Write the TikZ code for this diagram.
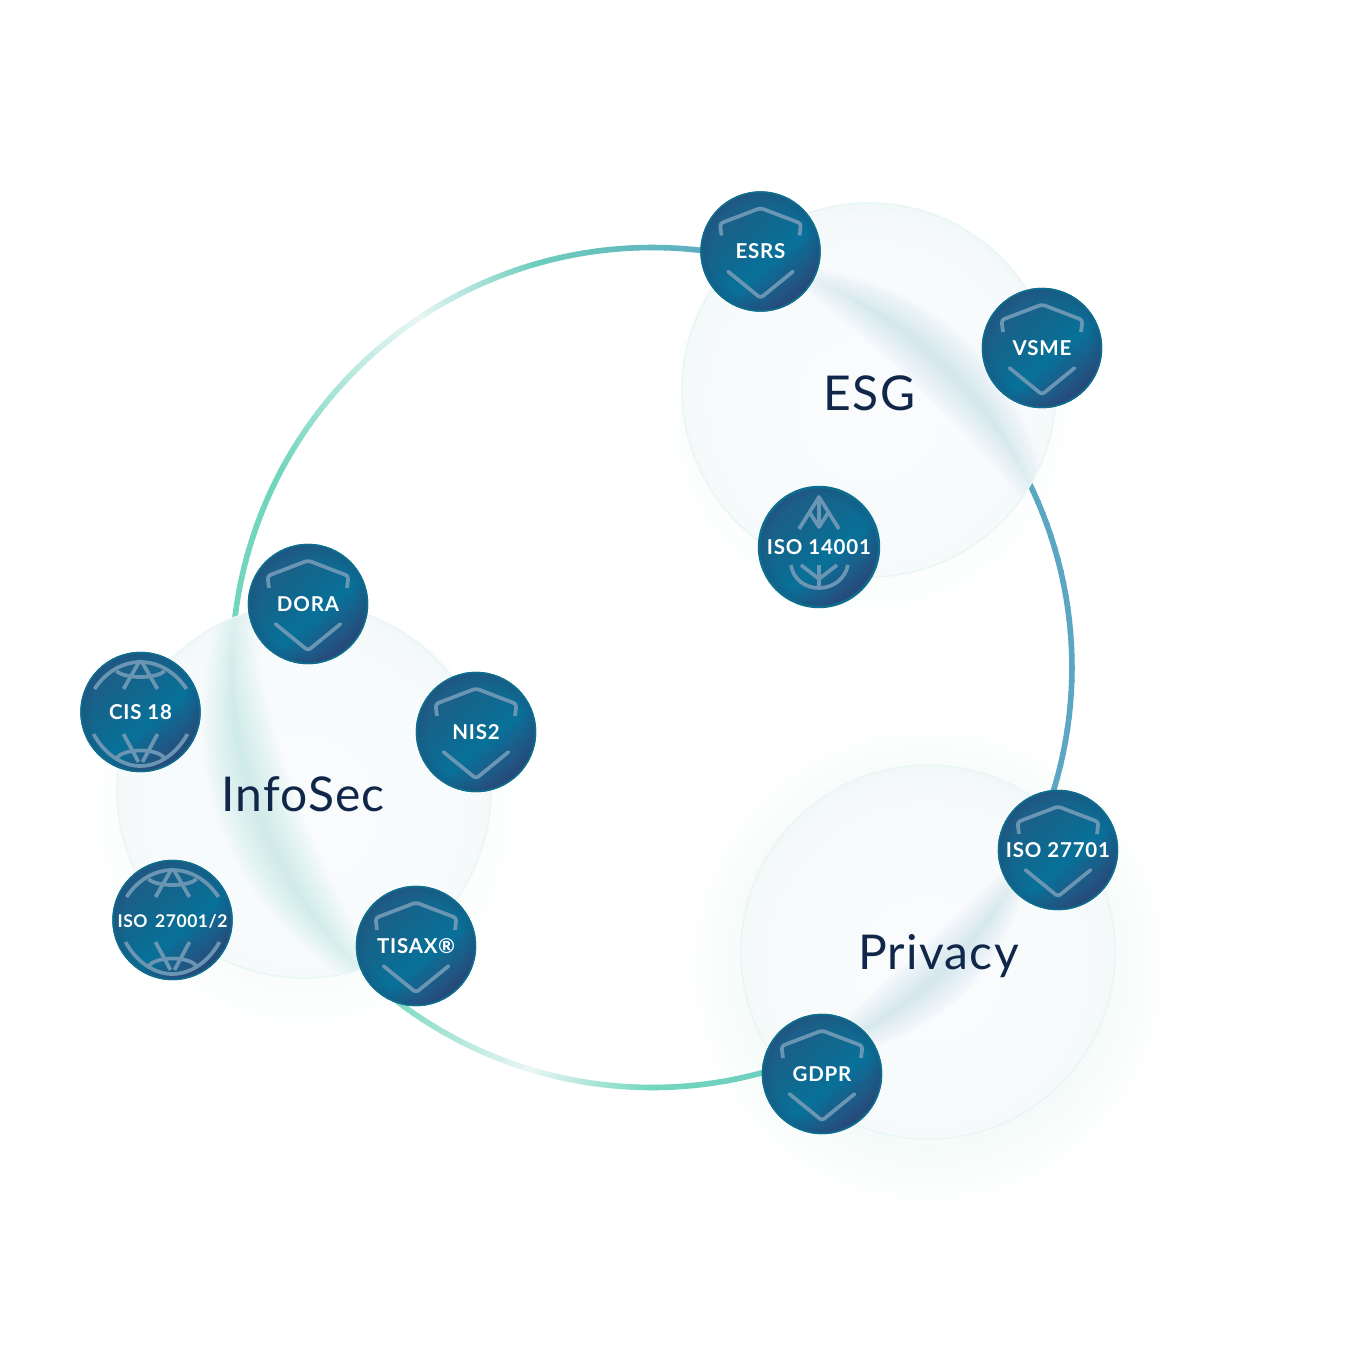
\documentclass[tikz,border=0pt]{standalone}
\usepackage{fontspec}
\setmainfont{Lato}
\definecolor{ink}{HTML}{10274A}
\definecolor{iconc}{HTML}{6A95B3}
\definecolor{teal}{HTML}{72D6BF}
\definecolor{tealb}{HTML}{6CCDBC}
\definecolor{pale}{HTML}{E9F6F4}
\definecolor{blue}{HTML}{5BA7C3}
\definecolor{rim}{HTML}{0E6E8D}
\definecolor{glassedge}{HTML}{EAF6F4}
\definecolor{bandblue}{HTML}{A8D2E0}
\definecolor{bandgreen}{HTML}{9CEBD2}
\definecolor{bda}{HTML}{234C7B}
\definecolor{bdb}{HTML}{274F7E}
\definecolor{bdc}{HTML}{087199}
\definecolor{bdd}{HTML}{10688F}
\definecolor{bde}{HTML}{205C85}
\definecolor{gla}{HTML}{F9FBFD}
\definecolor{glb}{HTML}{F8FBFC}
\definecolor{glc}{HTML}{F4F9FA}
\definecolor{gld}{HTML}{EEF6F6}
\definecolor{gwa}{HTML}{F2FAF8}
\definecolor{gwb}{HTML}{F7FCFB}
\definecolor{gwc}{HTML}{F9FDFC}
\pgfdeclareverticalshading{badgeshade}{100bp}{color(0bp)=(bda);color(28bp)=(bdb);color(44bp)=(bdc);color(56bp)=(bdd);color(75bp)=(bde);color(100bp)=(bde)}
\pgfdeclareradialshading{glassshade}{\pgfpoint{0bp}{-3bp}}{color(0bp)=(gla);color(20bp)=(glb);color(25bp)=(glc);color(28bp)=(gld);color(50bp)=(gld)}
\pgfdeclareradialshading{glowshade}{\pgfpoint{0bp}{0bp}}{color(0bp)=(gwa);color(16bp)=(gwa);color(20bp)=(gwb);color(25bp)=(white);color(50bp)=(white)}
\pgfdeclareradialshading{softshade}{\pgfpoint{0bp}{0bp}}{color(0bp)=(gwc);color(18bp)=(gwc);color(25bp)=(white);color(50bp)=(white)}
\tikzset{
  x=1pt,y=-1pt,
  glass/.style={circle,minimum size=374pt,inner sep=0pt,shading=glassshade,draw=glassedge,line width=1.5pt},
  badge/.style={circle,minimum size=119pt,inner sep=0pt,shading=badgeshade,shading angle=40,draw=rim,line width=1.4pt,text=white},
  badgetext/.style={font=\bfseries\fontsize{20.5}{21}\selectfont\addfontfeature{LetterSpace=4}},
  titletext/.style={text=ink,font=\fontsize{48}{48}\selectfont\addfontfeature{LetterSpace=2.6},inner sep=0pt},
  ringline/.style={line width=5.6pt,line cap=butt},
  iconline/.style={draw=iconc,line width=3.7pt,line join=round,line cap=round},
}
\newcommand{\ringpiece}[4]{%
  \pgfmathsetmacro{\stepa}{(#2-(#1))/30}%
  \foreach \i in {0,...,29}{%
    \pgfmathsetmacro{\aa}{#1+\i*\stepa}%
    \pgfmathsetmacro{\ab}{#1+(\i+1.15)*\stepa}%
    \pgfmathtruncatemacro{\p}{(\i+.5)/30*100}%
    \draw[ringline,#4!\p!#3] ([shift={(\aa:420)}]ringc) -- ([shift={(\ab:420)}]ringc);
  }}
% lens: a1, a2, half-thickness, colour, opacity
\newcommand{\lens}[5]{%
  \pgfmathsetmacro{\spana}{#2-(#1)}%
  \pgfmathsetmacro{\ca}{#1+\spana/3}%
  \pgfmathsetmacro{\cb}{#1+2*\spana/3}%
  \pgfmathsetmacro{\rc}{420*(1-0.25*cos(\spana/2))/(0.75*cos(\spana/6))}%
  \pgfmathsetmacro{\ro}{\rc+#3}%
  \pgfmathsetmacro{\ri}{\rc-#3}%
  \fill[#4,opacity=#5] ([shift={(#1:420)}]ringc)
    .. controls ([shift={(\ca:\ro)}]ringc) and ([shift={(\cb:\ro)}]ringc) .. ([shift={(#2:420)}]ringc)
    .. controls ([shift={(\cb:\ri)}]ringc) and ([shift={(\ca:\ri)}]ringc) .. cycle;
}
\newcommand{\band}[5]{% a1,a2,maxd,colour,opacity
  \foreach \k in {0,...,15}{%
    \pgfmathsetmacro{\aone}{#1+\k*0.016*(#2-(#1))}%
    \pgfmathsetmacro{\atwo}{#2-\k*0.016*(#2-(#1))}%
    \pgfmathsetmacro{\dd}{#3*(1-\k/16.5)}%
    \lens{\aone}{\atwo}{\dd}{#4}{#5}
  }}
\newcommand{\shieldicon}[1]{%
  \begin{scope}[shift={(#1.center)}]
    \draw[iconline,line cap=butt,rounded corners=3pt] (-39,-16) -- (-40.5,-28) -- (0,-43.5) -- (40.5,-28) -- (39,-16);
    \draw[iconline,rounded corners=3pt] (-32.5,20) -- (0,46.5) -- (32.5,20);
  \end{scope}}
\newcommand{\globeicon}[1]{%
  \begin{scope}[shift={(#1.center)}]
    \draw[iconline,line cap=butt] (-46,-23) .. controls (-34,-41) and (-17,-50) .. (0,-50) .. controls (17,-50) and (34,-41) .. (46,-23);
    \draw[iconline,line cap=butt] (-24,-41) .. controls (-16,-33) and (16,-33) .. (24,-41);
    \draw[iconline,line cap=butt] (-17,-23) -- (-2,-49) (17,-23) -- (2,-49);
    \draw[iconline,line cap=butt] (-47,22) .. controls (-36,42) and (-18,54) .. (0,54) .. controls (18,54) and (36,42) .. (47,22);
    \draw[iconline,line cap=butt] (-24,46) .. controls (-16,36) and (16,36) .. (24,46);
    \draw[iconline,line cap=butt] (-17,22) -- (-2,50) (17,22) -- (2,50);
  \end{scope}}
\newcommand{\leaficon}[1]{%
  \begin{scope}[shift={(#1.center)}]
    \draw[iconline,line cap=butt] (-20,-18) -- (0,-50) -- (20,-18);
    \draw[iconline,line cap=butt] (0,-50) -- (0,-19);
    \draw[iconline,line cap=butt] (-9,-34) -- (0,-20) -- (9,-34);
    \draw[iconline,line cap=butt] (-28,18) .. controls (-26,32) and (-14,41) .. (0,41) .. controls (14,41) and (26,32) .. (29,18);
    \draw[iconline,line cap=butt] (-18,18) -- (0,32) -- (18,18) (0,18) -- (0,41);
  \end{scope}}
\newcommand{\rimshade}[1]{%
  \foreach \w/\o in {10/0.07,7/0.08,4/0.10}{%
    \draw[bda,opacity=\o,line width=\w pt] (#1.center) circle[radius=59.5pt-\w pt/2];
  }
  \draw[rim,line width=1.4pt] (#1.center) circle[radius=59.5pt];
}
\begin{document}
\begin{tikzpicture}
\useasboundingbox (0,0) rectangle (1360,1360);
\fill[white] (0,0) rectangle (1360,1360);
\coordinate (ringc) at (652,667.5);
% soft glows
\shade[shading=glowshade] (928,965) circle[radius=245pt];
\shade[shading=softshade] (304,815) circle[radius=225pt];
\shade[shading=softshade] (869,410) circle[radius=215pt];
% ring
\ringpiece{183}{208}{teal}{teal}
\ringpiece{208}{236}{teal}{pale}
\ringpiece{236}{254}{pale}{tealb}
\ringpiece{254}{282}{tealb}{blue}
\ringpiece{-30}{20}{blue}{blue}
\ringpiece{130}{107}{teal}{pale}
\ringpiece{107}{90}{pale}{teal}
\ringpiece{90}{72}{teal}{tealb}
% glass discs
\node[glass] (esgglass) at (869,390) {};
\node[glass] (infoglass) at (304,791) {};
\node[glass] (privglass) at (928,952) {};
% ring seen through the glass
\begin{scope}
  \clip (esgglass.center) circle[radius=186pt];
  \band{-74}{-18}{46}{bandblue}{0.028}
\end{scope}
\begin{scope}
  \clip (infoglass.center) circle[radius=186pt];
  \band{124}{196}{56}{bandgreen}{0.026}
\end{scope}
\begin{scope}
  \clip (privglass.center) circle[radius=186pt];
  \band{24}{70}{42}{bandblue}{0.028}
\end{scope}
% titles
\node[titletext] (esg) at (869.5,393) {ESG};
\node[titletext] (infosec) at (303,794.5) {InfoSec};
\node[titletext] (privacy) at (938.5,956) {Privacy};
% badges
\node[badge] (esrs) at (760.5,251.5) {};
\node[badge] (vsme) at (1042,348) {};
\node[badge,minimum size=121pt] (iso14) at (819,547) {};
\node[badge] (dora) at (308,604) {};
\node[badge] (nis) at (476,732) {};
\node[badge] (cis) at (140.5,712) {};
\node[badge] (iso27) at (172.5,920) {};
\node[badge] (tisax) at (416,946) {};
\node[badge] (iso277) at (1058,850) {};
\node[badge] (gdpr) at (822,1074) {};
\foreach \b in {esrs,vsme,iso14,dora,nis,cis,iso27,tisax,iso277,gdpr}{\rimshade{\b}}
\shieldicon{esrs}\shieldicon{vsme}\shieldicon{dora}\shieldicon{nis}\shieldicon{tisax}\shieldicon{iso277}\shieldicon{gdpr}
\globeicon{cis}\globeicon{iso27}
\leaficon{iso14}
% badge labels
\node[badgetext,text=white] (t1) at (esrs.center) {ESRS};
\node[badgetext,text=white] (t2) at (vsme.center) {VSME};
\node[badgetext,text=white] (t3) at (iso14.center) {ISO 14001};
\node[badgetext,text=white] (t4) at (dora.center) {DORA};
\node[badgetext,text=white] (t5) at (nis.center) {NIS2};
\node[badgetext,text=white] (t6) at (cis.center) {CIS 18};
\node[text=white,font=\bfseries\fontsize{17.5}{18}\selectfont\addfontfeature{LetterSpace=3}] (t7) at ([yshift=-1.5pt]iso27.center) {ISO\, 27001/2};
\node[badgetext,text=white] (t8) at (tisax.center) {TISAX®};
\node[badgetext,text=white] (t9) at (iso277.center) {ISO 27701};
\node[badgetext,text=white] (t10) at (gdpr.center) {GDPR};
\end{tikzpicture}
\end{document}
